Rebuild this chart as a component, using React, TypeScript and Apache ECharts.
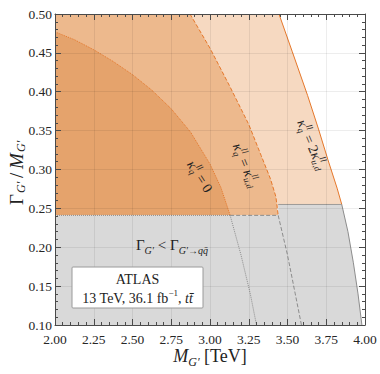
import React, { useEffect, useRef } from "react";
import * as echarts from "echarts";

// ---- data ----
const xTicks = [2.0, 2.25, 2.5, 2.75, 3.0, 3.25, 3.5, 3.75, 4.0];
const yTicks = [0.1, 0.15, 0.2, 0.25, 0.3, 0.35, 0.4, 0.45, 0.5];

const widthCutLow = 0.241; // grey-region top under kappa_q=0 and kappa_q=kappa_ud
const widthCutHigh = 0.255; // grey-region top under kappa_q=2kappa_ud

// kappa_q = 0 boundary
const kappa0Curve: number[][] = [
  [2.0, 0.477], [2.125, 0.467], [2.25, 0.454], [2.375, 0.439], [2.5, 0.422],
  [2.625, 0.402], [2.75, 0.378], [2.875, 0.348], [3.0, 0.307], [3.07, 0.277], [3.13, 0.241],
];
// kappa_q = kappa_ud boundary
const kappaUdCurve: number[][] = [
  [2.871, 0.5], [3.0, 0.456], [3.125, 0.408], [3.25, 0.358], [3.33, 0.318],
  [3.39, 0.288], [3.425, 0.265], [3.44, 0.241],
];
// kappa_q = 2 kappa_ud boundary
const kappa2UdCurve: number[][] = [
  [3.445, 0.5], [3.53, 0.452], [3.63, 0.395], [3.7, 0.352], [3.76, 0.313],
  [3.82, 0.276], [3.85, 0.255],
];
// continuation of boundaries inside the grey region
const greyOuterCurve: number[][] = [
  [3.85, 0.255], [3.89, 0.22], [3.925, 0.18], [3.955, 0.14], [3.98, 0.1],
];
const greyDotted: number[][] = [[3.13, 0.241], [3.2, 0.19], [3.26, 0.14], [3.3, 0.1]];
const greyDashed: number[][] = [[3.44, 0.241], [3.5, 0.19], [3.55, 0.14], [3.59, 0.1]];

const SERIF = "'Liberation Serif', 'DejaVu Serif', serif";
const ORANGE = "#E5772A";
const GREYLINE = "#8c8c8c";

function polySeries(points: number[][], fill: string, z: number) {
  return {
    type: "custom",
    z,
    silent: true,
    clip: true,
    data: points,
    renderItem: (params: any, api: any) => {
      if (params.dataIndex !== 0) return null;
      const pts = points.map((p) => api.coord(p));
      return { type: "polygon", shape: { points: pts }, style: { fill, stroke: null } };
    },
  };
}

function lineSeries(points: number[][], color: string, type: string, width: number, z: number) {
  return {
    type: "line",
    z,
    silent: true,
    showSymbol: false,
    symbol: "none",
    data: points,
    lineStyle: { color, type, width },
  };
}

type Part = { t: string; x: number; y?: number; s?: number; i?: boolean };
function mathGroup(cx: number, cy: number, deg: number, parts: Part[], base = 14) {
  return {
    type: "group",
    x: cx,
    y: cy,
    rotation: (-deg * Math.PI) / 180,
    z: 100,
    children: parts.map((p) => ({
      type: "text",
      z: 100,
      x: p.x,
      y: p.y || 0,
      style: {
        text: p.t,
        fontSize: p.s || base,
        fontFamily: SERIF,
        fontStyle: p.i ? "italic" : "normal",
        fill: "#222",
        textAlign: "left",
        textVerticalAlign: "middle",
      },
    })),
  };
}

const rich = (size: number) => ({
  n: { fontSize: size, fontFamily: SERIF, lineHeight: size + 6, color: "#222" },
  it: { fontSize: size, fontFamily: SERIF, fontStyle: "italic", lineHeight: size + 6, color: "#222" },
  sub: { fontSize: Math.round(size * 0.65), fontFamily: SERIF, fontStyle: "italic", lineHeight: Math.round(size * 0.65), verticalAlign: "bottom", color: "#222" },
  sup: { fontSize: Math.round(size * 0.65), fontFamily: SERIF, lineHeight: Math.round(size * 0.65), verticalAlign: "top", color: "#222" },
});

function richText(x: number, y: number, text: string, size: number, align = "center") {
  return {
    type: "text",
    x,
    y,
    z: 100,
    style: {
      text,
      rich: rich(size),
      textAlign: align,
      textVerticalAlign: "middle",
      fontFamily: SERIF,
      fontSize: size,
      fill: "#222",
    },
  };
}

function axisCommon(showLabel: boolean) {
  return {
    type: "value",
    z: 10,
    axisLine: { show: true, onZero: false, lineStyle: { color: "#4a4a4a", width: 1 } },
    axisTick: { show: true, inside: true, length: 6, lineStyle: { color: "#4a4a4a", width: 1 } },
    minorTick: { show: true, splitNumber: 5, length: 3, lineStyle: { color: "#4a4a4a", width: 1 } },
    splitLine: { show: showLabel, lineStyle: { color: "rgba(0,0,0,0.07)", width: 1 } },
    minorSplitLine: { show: false },
    axisLabel: {
      show: showLabel,
      fontFamily: SERIF,
      fontSize: 13.5,
      color: "#262626",
      formatter: (v: number) => v.toFixed(2),
    },
  };
}

export default function App() {
  const ref = useRef<HTMLDivElement>(null);
  useEffect(() => {
    if (!ref.current) return;
    const chart = echarts.init(ref.current, undefined, { renderer: "svg" });
    const xMin = xTicks[0], xMax = xTicks[xTicks.length - 1];
    const yMin = yTicks[0], yMax = yTicks[yTicks.length - 1];
    const xInt = xTicks[1] - xTicks[0];
    const yInt = 0.05;

    const lightPoly = [[xMin, yMax], ...kappa2UdCurve, [xMin, widthCutLow]];
    const mediumPoly = [[xMin, yMax], ...kappaUdCurve, [xMin, widthCutLow]];
    const darkPoly = [...kappa0Curve, [xMin, widthCutLow]];
    const greyPoly = [
      [xMin, yMin], [xMin, widthCutLow], [3.44, widthCutLow], [3.44, widthCutHigh],
      ...greyOuterCurve,
    ];

    const option: any = {
      animation: false,
      backgroundColor: "#ffffff",
      grid: { left: 55, right: 15, top: 14, bottom: 49, containLabel: false },
      xAxis: [
        { ...axisCommon(true), position: "bottom", min: xMin, max: xMax, interval: xInt,
          axisLabel: { ...axisCommon(true).axisLabel, margin: 7 } },
        { ...axisCommon(false), position: "top", min: xMin, max: xMax, interval: xInt },
      ],
      yAxis: [
        { ...axisCommon(true), position: "left", min: yMin, max: yMax, interval: yInt,
          axisLabel: { ...axisCommon(true).axisLabel, margin: 3 } },
        { ...axisCommon(false), position: "right", min: yMin, max: yMax, interval: yInt },
      ],
      series: [
        polySeries(lightPoly, "#F6D9C1", 1),
        polySeries(mediumPoly, "#EDB98D", 2),
        polySeries(darkPoly, "#E5A36C", 3),
        polySeries(greyPoly, "#D9D9D9", 4),
        lineSeries(kappa0Curve, ORANGE, "dotted", 1, 5),
        lineSeries(kappaUdCurve, ORANGE, "dashed", 1, 5),
        lineSeries(kappa2UdCurve, ORANGE, "solid", 1, 5),
        lineSeries([[xMin, widthCutLow], [3.13, widthCutLow]], GREYLINE, "dotted", 1, 5),
        lineSeries([[3.13, widthCutLow], [3.44, widthCutLow]], GREYLINE, "dashed", 1, 5),
        lineSeries([[3.44, widthCutHigh], [3.85, widthCutHigh]], GREYLINE, "solid", 0.8, 5),
        lineSeries(greyOuterCurve, GREYLINE, "solid", 1, 5),
        lineSeries(greyDotted, GREYLINE, "dotted", 1, 5),
        lineSeries(greyDashed, GREYLINE, "dashed", 1, 5),
      ],
      graphic: [
        // x axis title
        richText(210, 356, "{it|M}{sub|G′}{n| [TeV]}", 18),
        // y axis title (reads bottom to top)
        mathGroup(16, 167, -90, [
          { t: "Γ", x: -38 },
          { t: "G′", x: -26, y: 5, s: 12, i: true },
          { t: "/", x: -11 },
          { t: "M", x: -2, i: true },
          { t: "G′", x: 15, y: 5, s: 12, i: true },
        ], 19),
        // region label
        richText(172, 245, "{n|Γ}{sub|G′}{n| < Γ}{sub|G′→qq̄}", 15),
        // legend box
        {
          type: "rect", z: 90,
          shape: { x: 72, y: 267, width: 131, height: 41, r: 1 },
          style: { fill: "#ffffff", stroke: "#9a9a9a", lineWidth: 1 },
        },
        richText(137.5, 279, "{n|ATLAS}", 14),
        richText(137.5, 298, "{n|13 TeV, 36.1 fb}{sup|−1}{n|, }{it|tt̄}", 14),
        // curve labels
        mathGroup(200, 177, 57, [
          { t: "κ", x: -18, i: true },
          { t: "ll", x: -11, y: -5, s: 9, i: true },
          { t: "q", x: -11, y: 4, s: 9, i: true },
          { t: " = 0", x: -5 },
        ]),
        mathGroup(246, 167, 68, [
          { t: "κ", x: -25, i: true },
          { t: "ll", x: -18, y: -5, s: 9, i: true },
          { t: "q", x: -18, y: 4, s: 9, i: true },
          { t: " = ", x: -12 },
          { t: "κ", x: 3, i: true },
          { t: "ll", x: 10, y: -5, s: 9, i: true },
          { t: "u,d", x: 10, y: 4, s: 9, i: true },
        ]),
        mathGroup(312, 146, 67, [
          { t: "κ", x: -28, i: true },
          { t: "ll", x: -21, y: -5, s: 9, i: true },
          { t: "q", x: -21, y: 4, s: 9, i: true },
          { t: " = 2", x: -15 },
          { t: "κ", x: 7, i: true },
          { t: "ll", x: 14, y: -5, s: 9, i: true },
          { t: "u,d", x: 14, y: 4, s: 9, i: true },
        ]),
      ],
    };
    chart.setOption(option);
    return () => chart.dispose();
  }, []);
  return (
    <div
      ref={ref}
      style={{ position: "absolute", left: 0, top: 0, width: 380, height: 374, background: "#fff" }}
    />
  );
}
